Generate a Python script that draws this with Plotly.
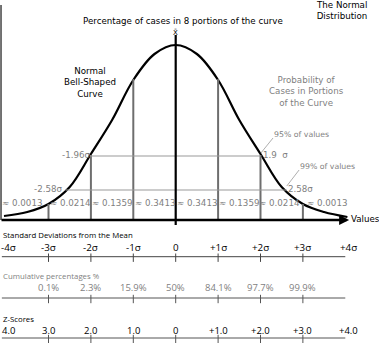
import plotly.graph_objects as go

# ---- data ----
curve_z = [-4.05, -3.5, -3, -2.5, -2, -1.5, -1, -0.5, 0, 0.5, 1, 1.5, 2, 2.5, 3, 3.5, 4.05]
curve_h = [4, 8, 16, 33, 66, 100, 140, 166, 175, 166, 140, 100, 66, 33, 16, 8, 3]

sep_z = [-3, -2, -1, 1, 2, 3]
sep_h = [16, 65, 141, 141, 65, 16]

prob_z = [-3.63, -2.48, -1.5, -0.5, 0.5, 1.5, 2.44, 3.56]
prob_labels = ["≈ 0.0013", "≈ 0.0214", "≈ 0.1359", "≈ 0.3413",
               "≈ 0.3413", "≈ 0.1359", "≈ 0.0214", "≈ 0.0013"]

ci95_z = [-2.02, 2.0]
ci95_h = 64
ci99_z = [-2.6, 2.62]
ci99_h = 30

sd_z = [-4, -3, -2, -1, 0, 1, 2, 3, 4]
sd_labels = ["-4σ", "-3σ", "-2σ", "-1σ", "0", "+1σ", "+2σ", "+3σ", "+4σ"]
cum_z = [-3, -2, -1, 0, 1, 2, 3]
cum_labels = ["0.1%", "2.3%", "15.9%", "50%", "84.1%", "97.7%", "99.9%"]
zs_z = [-4, -3, -2, -1, 0, 1, 2, 3, 4]
zs_labels = ["4.0", "3.0", "2.0", "1.0", "0", "+1.0", "+2.0", "+3.0", "+4.0"]
tick_z = [-3, -2, -1, 0, 1, 2, 3]

# ---- layout helpers (positions in axis units) ----
X_MIN, X_MAX = -4.144, 4.795
Y_MIN, Y_MAX = -123, 220
GRAY = "#7f7f7f"
LINEGRAY = "#6e6e6e"
FONT = "DejaVu Sans"
LFONT = "Open Sans"

fig = go.Figure()

# curve
fig.add_trace(go.Scatter(x=curve_z, y=curve_h, mode="lines",
                         line=dict(color="black", width=2.2, shape="spline", smoothing=1.0),
                         hoverinfo="skip"))

# separator lines
for z, h in zip(sep_z, sep_h):
    fig.add_trace(go.Scatter(x=[z, z], y=[0, h], mode="lines",
                             line=dict(color=LINEGRAY, width=2), hoverinfo="skip"))

# CI horizontal lines
fig.add_trace(go.Scatter(x=ci95_z, y=[ci95_h, ci95_h], mode="lines",
                         line=dict(color="#999999", width=1), hoverinfo="skip"))
fig.add_trace(go.Scatter(x=ci99_z, y=[ci99_h, ci99_h], mode="lines",
                         line=dict(color="#999999", width=1), hoverinfo="skip"))

# mean line
fig.add_trace(go.Scatter(x=[0, 0], y=[-5, 185], mode="lines",
                         line=dict(color="black", width=2.2), hoverinfo="skip"))

# left vertical axis
fig.add_trace(go.Scatter(x=[-4.12, -4.12], y=[0, 215], mode="lines",
                         line=dict(color="#444444", width=1.5), hoverinfo="skip"))

# leader lines
fig.add_trace(go.Scatter(x=[2.295, 2.01], y=[82, 67], mode="lines",
                         line=dict(color="#999999", width=0.8), hoverinfo="skip"))
fig.add_trace(go.Scatter(x=[2.91, 2.62], y=[50, 34], mode="lines",
                         line=dict(color="#999999", width=0.8), hoverinfo="skip"))

# lower scales
for yl, col in [(-36.7, "#444444"), (-78, "#555555"), (-118, "#555555")]:
    fig.add_trace(go.Scatter(x=[-4.1, 4.0], y=[yl, yl], mode="lines",
                             line=dict(color=col, width=1), hoverinfo="skip"))
    fig.add_trace(go.Scatter(x=tick_z, y=[yl - 1] * len(tick_z), mode="markers",
                             marker=dict(symbol="line-ns", size=6,
                                         line=dict(color=col, width=1)),
                             hoverinfo="skip"))

# baseline with arrow
fig.add_annotation(x=4.09, y=0, ax=-4.144, ay=0, xref="x", yref="y", axref="x", ayref="y",
                   showarrow=True, arrowhead=2, arrowsize=0.8, arrowwidth=2.5,
                   arrowcolor="black", text="")

def txt(x, y, s, size=8, color="black", xanchor="center", family=FONT, align="center"):
    fig.add_annotation(x=x, y=y, text=s, showarrow=False, xanchor=xanchor, yanchor="middle",
                       font=dict(family=family, size=size, color=color), align=align,
                       borderpad=0)

txt(0.17, 199, "Percentage of cases in 8 portions of the curve", size=8.7)
txt(4.536, 210, "The Normal<br>Distribution", size=8.7, xanchor="right", align="right")
txt(0, 188, "X̄", size=7)
txt(-2.02, 138, "Normal<br>Bell-Shaped<br>Curve", size=8.7)
txt(3.077, 129, "Probability of<br>Cases in Portions<br>of the Curve", size=8.7, color=GRAY)
txt(-2.0, 65, "-1.96σ", size=8.7, color=GRAY, xanchor="right")
txt(2.03, 65, "1.9  σ", size=8.7, color=GRAY, xanchor="left")
txt(-2.66, 31, "-2.58σ", size=8.7, color=GRAY, xanchor="right")
txt(2.62, 31, "2.58σ", size=8.7, color=GRAY, xanchor="left")
txt(2.29, 86, "95% of values", size=7.8, color=GRAY, xanchor="left")
txt(2.9, 54, "99% of values", size=7.8, color=GRAY, xanchor="left")
for z, s in zip(prob_z, prob_labels):
    txt(z, 17, s, size=8.7, color=GRAY)
txt(4.11, 1, "Values", size=8.7, xanchor="left")

txt(-4.1, -15, "Standard Deviations from the Mean", size=7.8, xanchor="left", family=LFONT)
for z, s in zip(sd_z, sd_labels):
    txt(z + (0.05 if z == -4 else 0.07 if z == 4 else 0), -27, s, size=9.8, family=LFONT)
txt(-4.1, -56, "Cumulative percentages %", size=7.8, color=GRAY, xanchor="left", family=LFONT)
for z, s in zip(cum_z, cum_labels):
    txt(z, -67, s, size=9.5, color=GRAY, family=LFONT)
txt(-4.1, -99, "Z-Scores", size=7.8, xanchor="left", family=LFONT)
for z, s in zip(zs_z, zs_labels):
    if z == -4:
        txt(-4.13, -110, s, size=9.5, family=LFONT, xanchor="left")
    else:
        txt(z + (0.07 if z == 4 else 0), -110, s, size=9.5, family=LFONT)

fig.update_layout(width=379, height=343, margin=dict(l=0, r=0, t=0, b=0),
                  paper_bgcolor="white", plot_bgcolor="white", showlegend=False,
                  xaxis=dict(range=[X_MIN, X_MAX], visible=False, fixedrange=True),
                  yaxis=dict(range=[Y_MIN, Y_MAX], visible=False, fixedrange=True))

fig.write_html("out.html", config={"displayModeBar": False})
